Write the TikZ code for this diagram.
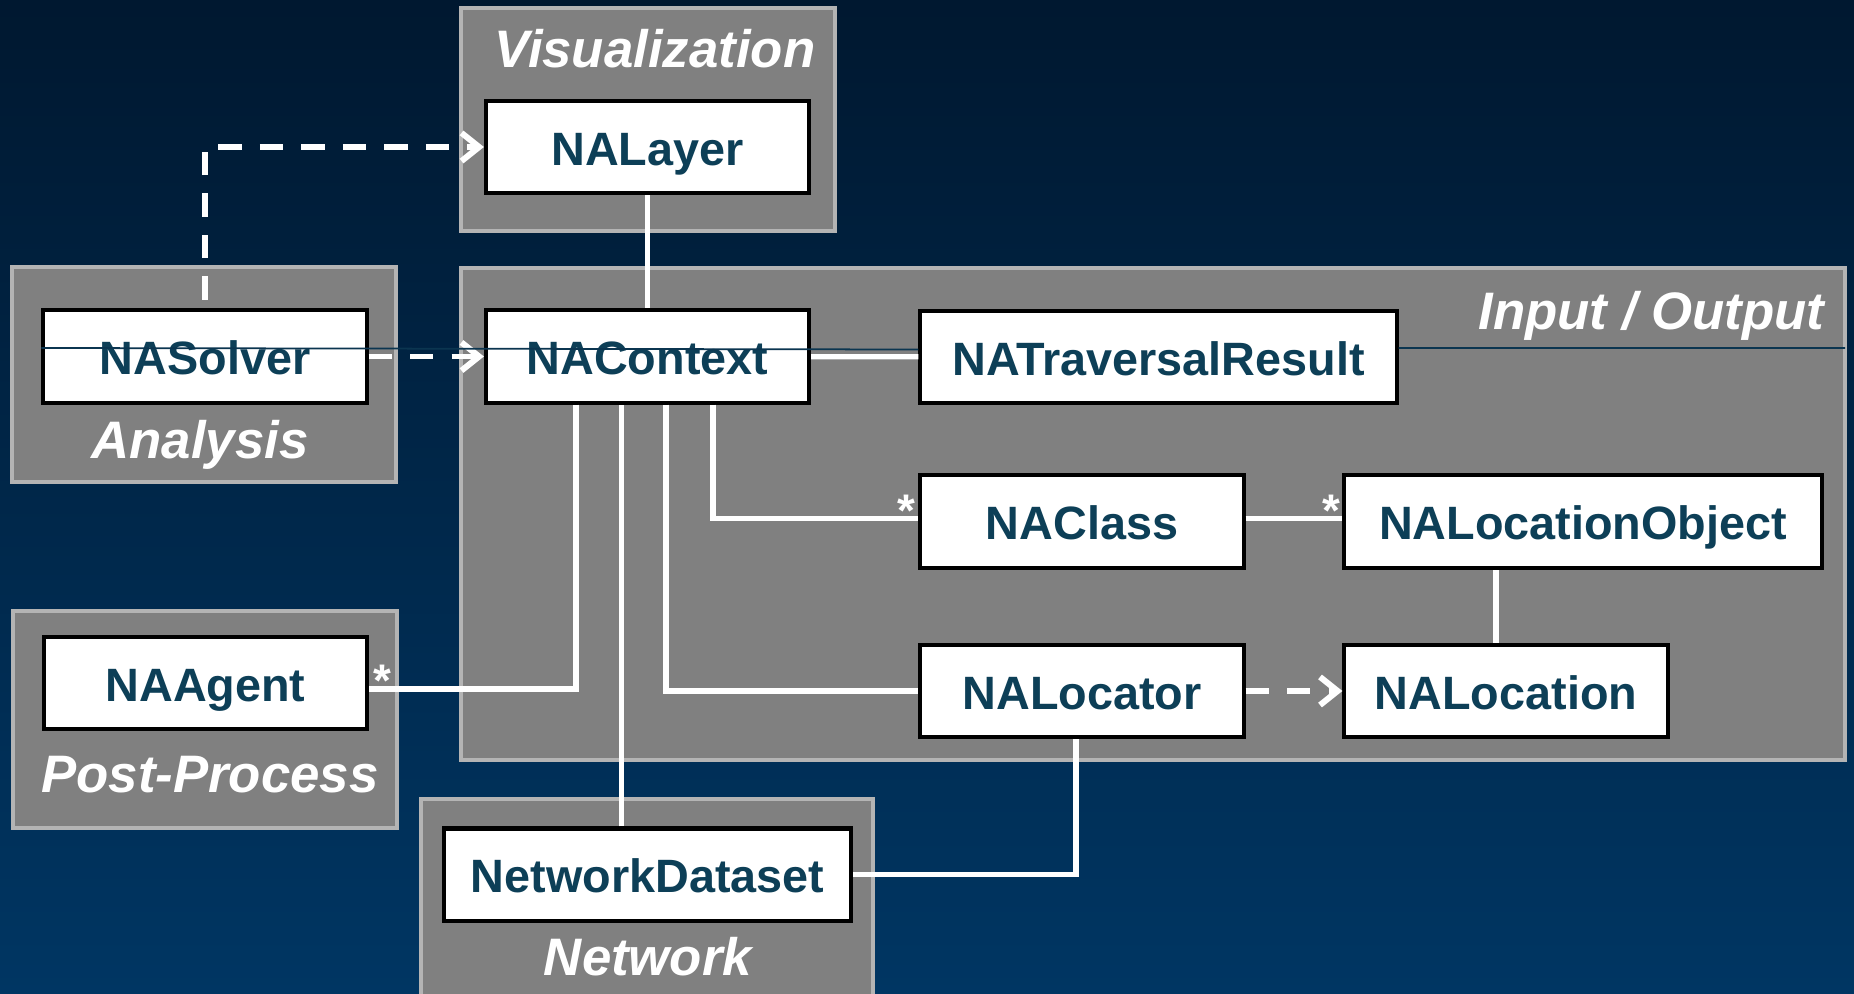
\documentclass[tikz,border=0pt]{standalone}
\usepackage{fontspec}
\setmainfont{Liberation Sans}
\usepackage{tikz}
\usetikzlibrary{arrows.meta,positioning}
\definecolor{bgtop}{HTML}{001830}
\definecolor{bgbottom}{HTML}{003663}
\definecolor{grpfill}{HTML}{808080}
\definecolor{grpline}{HTML}{B4B4B4}
\definecolor{boxtext}{HTML}{0D3F57}
\definecolor{seam}{HTML}{0B3550}

\begin{document}
\begin{tikzpicture}[x=0.01cm, y=0.01cm]
                \tikzstyle{every node}+=[inner sep=0pt]
                \tikzstyle{group}=[fill=grpfill, draw=grpline, line width=1.4pt]
                \tikzstyle{grouplabel}=[text=white, font=\bfseries\itshape\fontsize{15}{18}\selectfont, anchor=base]
                \tikzstyle{cls}=[draw=black, fill=white, line width=1.15pt, minimum height=0.92cm, minimum width=3.23cm, text height=10.5pt, text depth=0pt, text=boxtext, font=\bfseries\fontsize{13.3}{16}\selectfont]
                \tikzstyle{link}=[white, line width=1.5pt]
                \tikzstyle{dep}=[white, line width=1.7pt, dash pattern=on 6.6pt off 5.2pt, -{Straight Barb[length=5pt,width=8pt]}]
                \tikzstyle{mult}=[text=white, font=\bfseries\fontsize{13}{15}\selectfont, anchor=north]
                \useasboundingbox (0,0) rectangle (1854,-994);
                \shade [top color=bgtop, bottom color=bgbottom] (0,0) rectangle (1854,-994);
                % packages
                \draw [group] (461,-8) rectangle (835,-231);
                \draw [group] (12,-267) rectangle (396,-482);
                \draw [group] (461,-268) rectangle (1845,-760);
                \draw [group] (13,-611) rectangle (397,-828);
                \draw [group] (421,-799) rectangle (873,-1005);
                \node [grouplabel] (vislabel) at (655,-68) {Visualization};
                \node [grouplabel] (analabel) at (200,-458) {Analysis};
                \node [grouplabel, anchor=base east] (iolabel) at (1825,-330) {Input / Output};
                \node [grouplabel] (postlabel) at (210,-792) {Post-Process};
                \node [grouplabel] (netlabel) at (648,-975) {Network};
                % classes
                \node [cls] (NALayer) at (647.5,-147) {NALayer};
                \node [cls] (NASolver) at (205,-356.5) {NASolver};
                \node [cls] (NAContext) at (647.5,-356.5) {NAContext};
                \node [cls, minimum width=4.76cm] (NATraversalResult) at (1158.5,-357) {NATraversalResult};
                \node [cls] (NAClass) at (1082,-521.5) {NAClass};
                \node [cls, minimum width=4.78cm] (NALocationObject) at (1583,-521.5) {NALocationObject};
                \node [cls] (NALocator) at (1082,-691) {NALocator};
                \node [cls] (NALocation) at (1506,-691) {NALocation};
                \node [cls] (NAAgent) at (205.5,-683) {NAAgent};
                \node [cls, minimum width=4.06cm] (NetworkDataset) at (647.5,-874.5) {NetworkDataset};
                % associations
                \draw [link] (NALayer) -- (NAContext);
                \draw [dep, shorten <=2.5pt] (NASolver.north) |- (NALayer.west);
                \draw [dep] (NASolver) -- (NAContext);
                \draw [link] (NAContext) -- (NATraversalResult);
                \draw [link] ([xshift=-0.715cm]NAContext.south) |- ([yshift=-0.06cm]NAAgent.east);
                \draw [link] ([xshift=-0.26cm]NetworkDataset.north) -- ([xshift=-0.26cm]NetworkDataset.north |- NAContext.south);
                \draw [link] ([xshift=0.185cm]NAContext.south) |- (NALocator.west);
                \draw [link] ([xshift=0.655cm]NAContext.south) |- ([yshift=0.03cm]NAClass.west);
                \draw [link] ([yshift=0.03cm]NAClass.east) -- ([yshift=0.03cm]NALocationObject.west);
                \draw [link] ([xshift=-0.1cm]NALocation.north) -- ([xshift=-0.1cm]NALocation.north |- NALocationObject.south);
                \draw [dep] (NALocator) -- (NALocation);
                \draw [link] ([xshift=-0.06cm]NALocator.south) |- (NetworkDataset.east);
                % thin seam
                \coordinate (ioeast) at (1845,-348);
                \draw [seam, line width=0.5pt] ([yshift=0.085cm]NASolver.west) -- ([yshift=0.075cm]NATraversalResult.west);
                \draw [seam, line width=0.5pt] ([yshift=0.09cm]NATraversalResult.east) -- (ioeast);
                % multiplicities
                \node [mult] (agentmult) at (382,-664) {*};
                \node [mult] (classmult) at (906,-494) {*};
                \node [mult] (locobjmult) at (1331,-494) {*};
\end{tikzpicture}
\end{document}
